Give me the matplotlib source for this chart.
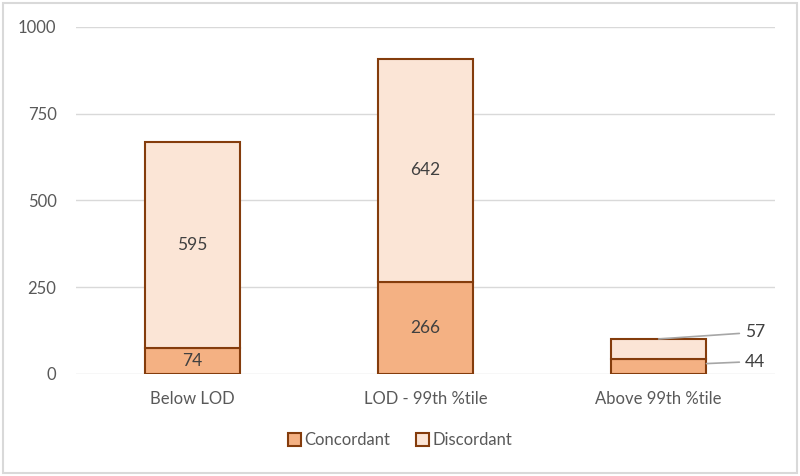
import numpy as np
import matplotlib
matplotlib.use('Agg')
import matplotlib.pyplot as plt
from matplotlib.patches import Rectangle

categories = ['Below LOD', 'LOD - 99th %tile', 'Above 99th %tile']
concordant = [74, 266, 44]
discordant = [595, 642, 57]

c_conc = '#F4B183'
c_disc = '#FBE5D6'
c_edge = '#843C0C'
c_text = '#404040'

plt.rcParams['font.family'] = ['Lato', 'DejaVu Sans']

fig = plt.figure(figsize=(8, 4.76), dpi=100)
ax = fig.add_axes([0.095, 0.2143, 0.874, 0.729])

x = np.arange(len(categories))
w = 0.41
ax.bar(x, concordant, w, color=c_conc, edgecolor=c_edge, linewidth=1.5, label='Concordant', zorder=3)
ax.bar(x, discordant, w, bottom=concordant, color=c_disc, edgecolor=c_edge, linewidth=1.5, label='Discordant', zorder=3)

# labels inside bars for the first two groups
for i in range(2):
    ax.text(x[i], concordant[i] / 2, str(concordant[i]), ha='center', va='center', fontsize=12.5, color=c_text, zorder=4)
    ax.text(x[i], concordant[i] + discordant[i] / 2, str(discordant[i]), ha='center', va='center', fontsize=12.5, color=c_text, zorder=4)

# small bar: labels outside with leader lines
i = 2
ax.annotate(str(discordant[i]), xy=(x[i], concordant[i] + discordant[i]), xytext=(x[i] + 0.37, 120),
            ha='left', va='center', fontsize=12.5, color=c_text,
            arrowprops=dict(arrowstyle='-', color='#A6A6A6', lw=1.2, shrinkA=2, shrinkB=0))
ax.annotate(str(concordant[i]), xy=(x[i] + w / 2, concordant[i] / 2 + 8), xytext=(x[i] + 0.37, 36),
            ha='left', va='center', fontsize=12.5, color=c_text,
            arrowprops=dict(arrowstyle='-', color='#A6A6A6', lw=1.2, shrinkA=2, shrinkB=0))

ax.set_ylim(0, 1000)
ax.set_xlim(-0.5, 2.5)
ax.set_yticks([0, 250, 500, 750, 1000])
ax.set_xticks(x)
ax.set_xticklabels(categories)
ax.tick_params(axis='both', length=0, labelsize=12, colors='#595959')
ax.tick_params(axis='x', pad=12)
ax.tick_params(axis='y', pad=14)
ax.grid(axis='y', color='#D9D9D9', linewidth=1, zorder=0)
for s in ax.spines.values():
    s.set_visible(False)

fig.legend(loc='center', bbox_to_anchor=(0.5, 0.075), ncol=2, frameon=False, fontsize=12,
           handlelength=0.8, handleheight=0.8, handletextpad=0.2, columnspacing=1.5, labelcolor='#595959')

fig.patches.append(Rectangle((0.004, 0.006), 0.992, 0.988, transform=fig.transFigure,
                             fill=False, edgecolor='#D9D9D9', linewidth=1.5))

fig.savefig('out.png', dpi=100)
